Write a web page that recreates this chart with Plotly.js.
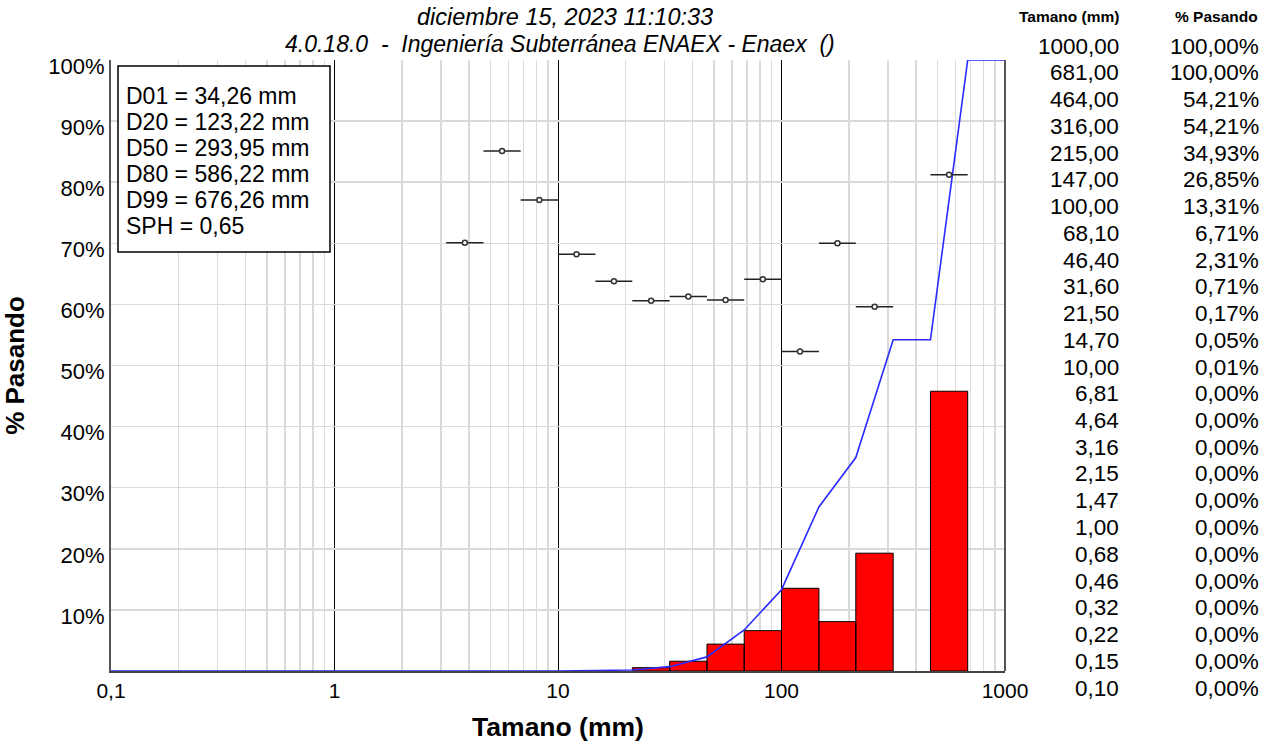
<!DOCTYPE html>
<html>
<head>
<meta charset="utf-8">
<script src="https://cdn.plot.ly/plotly-3.0.1.min.js"></script>
<style>html,body{margin:0;padding:0;background:#fff;}#chart{width:1277px;height:746px;}</style>
</head>
<body>
<div id="chart"></div>
<script>
// ---- data ----
const titleLine1 = "diciembre 15, 2023 11:10:33";
const titleLine2 = "4.0.18.0  -  Ingeniería Subterránea ENAEX - Enaex  ()";

// cumulative passing curve (table on the right)
const sizes   = [1000, 681, 464, 316, 215, 147, 100, 68.1, 46.4, 31.6, 21.5, 14.7, 10, 6.81, 4.64, 3.16, 2.15, 1.47, 1.00, 0.68, 0.46, 0.32, 0.22, 0.15, 0.10];
const passing = [100, 100, 54.21, 54.21, 34.93, 26.85, 13.31, 6.71, 2.31, 0.71, 0.17, 0.05, 0.01, 0, 0, 0, 0, 0, 0, 0, 0, 0, 0, 0, 0];

// retained histogram bars
const binLo    = [21.5, 31.6, 46.4, 68.1, 100, 147, 215, 316, 464];
const binHi    = [31.6, 46.4, 68.1, 100, 147, 215, 316, 464, 681];
const retained = [0.54, 1.60, 4.40, 6.60, 13.54, 8.08, 19.28, 0, 45.79];

// points with horizontal bars
const ptX  = [3.83, 5.62, 8.25, 12.1, 17.8, 26.1, 38.3, 56.2, 82.5, 121, 178, 261, 562];
const ptY  = [70.1, 85.1, 77.1, 68.2, 63.8, 60.6, 61.3, 60.7, 64.1, 52.3, 70.0, 59.6, 81.2];
const ptLo = [3.16, 4.64, 6.81, 10, 14.7, 21.5, 31.6, 46.4, 68.1, 100, 147, 215, 464];
const ptHi = [4.64, 6.81, 10, 14.7, 21.5, 31.6, 46.4, 68.1, 100, 147, 215, 316, 681];

// statistics box
const statLines = ["D01 = 34,26 mm", "D20 = 123,22 mm", "D50 = 293,95 mm", "D80 = 586,22 mm", "D99 = 676,26 mm", "SPH = 0,65"];

// axis ticks
const xTickVals = [0.1, 1, 10, 100, 1000];
const xTickText = ["0,1", "1", "10", "100", "1000"];
const yTickVals = [10, 20, 30, 40, 50, 60, 70, 80, 90, 100];
const yTickText = ["10%", "20%", "30%", "40%", "50%", "60%", "70%", "80%", "90%", "100%"];

const tableHead = ["Tamano (mm)", "% Pasando"];

// ---- geometry (pixels) ----
const W = 1277, H = 746;
const L = 111, R = 1005, T = 60, B = 671;
const PW = R - L, PH = B - T;
const px2x = p => (p - L) / PW;
const px2y = p => (B - p) / PH;
const FONT = "Liberation Sans, Arial, sans-serif";

// bars as closed polygons
const barX = [], barY = [];
for (let i = 0; i < binLo.length; i++) {
  if (retained[i] <= 0) continue;
  barX.push(binLo[i], binLo[i], binHi[i], binHi[i], binLo[i], null);
  barY.push(0, retained[i], retained[i], 0, 0, null);
}

const traces = [
  {
    type: 'scatter', mode: 'lines', x: barX, y: barY,
    fill: 'toself', fillcolor: '#ff0000',
    line: {color: '#000000', width: 1}, hoverinfo: 'skip', showlegend: false
  },
  {
    type: 'scatter', mode: 'lines', x: sizes, y: passing,
    line: {color: '#2a2aff', width: 1.6}, showlegend: false
  },
  {
    type: 'scatter', mode: 'markers', x: ptX, y: ptY,
    marker: {symbol: 'circle', size: 5, color: '#ffffff', line: {color: '#333333', width: 1.5}},
    error_x: {
      type: 'data', symmetric: false,
      array: ptX.map((v, i) => ptHi[i] - v),
      arrayminus: ptX.map((v, i) => v - ptLo[i]),
      color: '#222222', thickness: 1.5, width: 0
    },
    showlegend: false
  }
];

// minor gridlines 2..9 of each decade
const minorVals = [];
for (let d = -1; d < 3; d++) for (let k = 2; k <= 9; k++) minorVals.push(k * Math.pow(10, d));

const annotations = [];
annotations.push({text: '<i>' + titleLine1 + '</i>', xref: 'paper', yref: 'paper', x: px2x(565), y: px2y(17),
  showarrow: false, font: {family: FONT, size: 23.5, color: '#000'}, xanchor: 'center', yanchor: 'middle'});
annotations.push({text: '<i>' + titleLine2 + '</i>', xref: 'paper', yref: 'paper', x: px2x(560), y: px2y(44),
  showarrow: false, font: {family: FONT, size: 23, color: '#000'}, xanchor: 'center', yanchor: 'middle'});

// stats box lines
statLines.forEach((s, i) => {
  annotations.push({text: s, xref: 'paper', yref: 'paper', x: px2x(124), y: px2y(96 + 26 * i),
    showarrow: false, font: {family: FONT, size: 23, color: '#000'}, xanchor: 'left', yanchor: 'middle'});
});

// right table
annotations.push({text: '<b>' + tableHead[0] + '</b>', xref: 'paper', yref: 'paper', x: px2x(1121), y: px2y(16),
  showarrow: false, font: {family: FONT, size: 15.5, color: '#000'}, xanchor: 'right', yanchor: 'middle'});
annotations.push({text: '<b>' + tableHead[1] + '</b>', xref: 'paper', yref: 'paper', x: px2x(1260), y: px2y(16),
  showarrow: false, font: {family: FONT, size: 15.5, color: '#000'}, xanchor: 'right', yanchor: 'middle'});
sizes.forEach((s, i) => {
  const yy = px2y(46 + 26.75 * i);
  annotations.push({text: s.toFixed(2).replace('.', ','), xref: 'paper', yref: 'paper', x: px2x(1121), y: yy,
    showarrow: false, font: {family: FONT, size: 22.5, color: '#000'}, xanchor: 'right', yanchor: 'middle'});
  annotations.push({text: passing[i].toFixed(2).replace('.', ',') + '%', xref: 'paper', yref: 'paper', x: px2x(1261), y: yy,
    showarrow: false, font: {family: FONT, size: 22.5, color: '#000'}, xanchor: 'right', yanchor: 'middle'});
});

const shapes = [
  {type: 'rect', xref: 'paper', yref: 'paper', x0: px2x(118), x1: px2x(330), y0: px2y(252), y1: px2y(66),
   line: {color: '#000', width: 1.5}, fillcolor: '#ffffff', layer: 'above'},
  {type: 'line', xref: 'paper', yref: 'paper', x0: 1, x1: 1, y0: 0, y1: 1, line: {color: '#555', width: 2}}
];

const layout = {
  width: W, height: H,
  margin: {l: L, r: W - R, t: T, b: H - B, pad: 0},
  paper_bgcolor: '#fff', plot_bgcolor: '#fff',
  showlegend: false,
  font: {family: FONT, color: '#000'},
  xaxis: {
    type: 'log', range: [-1, 3], autorange: false,
    tickmode: 'array', tickvals: xTickVals, ticktext: xTickText,
    showgrid: true, gridcolor: '#000000', gridwidth: 1,
    minor: {tickmode: 'array', tickvals: minorVals, showgrid: true, gridcolor: '#dadada', gridwidth: 1.5, ticks: ''},
    showline: true, linecolor: '#444', linewidth: 2,
    ticks: '', tickfont: {family: FONT, size: 21, color: '#000'},
    zeroline: false,
    title: {text: '<b>Tamano (mm)</b>', font: {family: FONT, size: 26.5, color: '#000'}, standoff: 16},
    automargin: false
  },
  yaxis: {
    range: [0, 100], autorange: false,
    tickmode: 'array', tickvals: yTickVals, ticktext: yTickText,
    showgrid: true, gridcolor: '#dadada', gridwidth: 1.5,
    showline: true, linecolor: '#555', linewidth: 2,
    ticks: '', ticklabelstandoff: 0, ticklabelshift: 6,
    tickfont: {family: FONT, size: 22, color: '#000'},
    zeroline: false,
    title: {text: '<b>% Pasando</b>', font: {family: FONT, size: 26, color: '#000'}, standoff: 16},
    automargin: false
  },
  annotations: annotations,
  shapes: shapes
};

Plotly.newPlot('chart', traces, layout, {displayModeBar: false, staticPlot: true});
</script>
</body>
</html>
